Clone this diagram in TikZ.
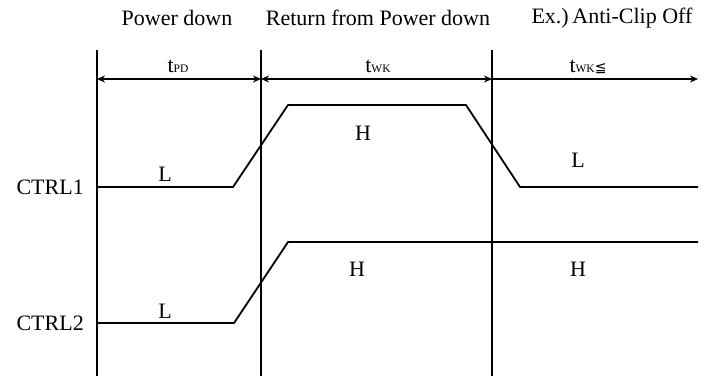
\documentclass[tikz,border=0pt]{standalone}
\usepackage{fontspec}
\setmainfont{Liberation Serif}
\newfontfamily\symfont{DejaVu Sans}
\usetikzlibrary{arrows.meta}
\begin{document}
\begin{tikzpicture}[x=1pt,y=-1pt,
  txt/.style={font=\fontsize{22}{24}\selectfont, inner sep=0pt},
  tlab/.style={font=\fontsize{22}{24}\selectfont, inner sep=0pt, anchor=base},
  vline/.style={line width=2.8pt},
  dim/.style={line width=2.4pt, {Stealth[length=8pt,width=7pt]}-{Stealth[length=8pt,width=7pt]}},
  dimr/.style={line width=2.4pt, -{Stealth[length=8pt,width=7pt]}},
  sig/.style={line width=1.8pt, line join=round}]
\useasboundingbox (0,0) rectangle (705,376);
\def\sub#1{{\fontsize{11.5}{12}\selectfont #1}}
% vertical boundaries
\coordinate (a0) at (97,50);  \coordinate (a1) at (97,376);
\coordinate (b0) at (261,50); \coordinate (b1) at (261,376);
\coordinate (c0) at (492,50); \coordinate (c1) at (492,376);
\draw[vline] (a0) -- (a1);
\draw[vline] (b0) -- (b1);
\draw[vline] (c0) -- (c1);
% titles
\node[txt] (t1) at (177,18) {Power down};
\node[txt] (t2) at (378,18) {Return from Power down};
\node[txt] (t3) at (612,18) {Ex.)\,Anti-Clip Off};
% dimension arrows
\coordinate (da) at (97,79); \coordinate (db) at (261,79);
\coordinate (dc) at (492,79); \coordinate (dd) at (698,79);
\draw[dim] (da) -- (db);
\draw[dim] (db) -- (dc);
\draw[dimr] (dc) -- (dd);
\node[tlab] (l1) at (178,72) {t\sub{PD}};
\node[tlab] (l2) at (378,72) {t\sub{WK}};
\node[tlab] (l3) at (588,72) {t\sub{WK}{\symfont\fontsize{14}{14}\selectfont ≦}};
% signal names
\node[txt, anchor=east] (c1n) at (84,187) {CTRL1};
\node[txt, anchor=east] (c2n) at (84,323) {CTRL2};
% CTRL1 waveform
\coordinate (s1) at (97,187);
\draw[sig] (s1) -- (233,187) -- (288,105) -- (466,105) -- (520,187) -- (698,187);
% CTRL2 waveform
\coordinate (s2) at (97,323);
\draw[sig] (s2) -- (234,323) -- (288,242) -- (698,242);
% levels
\node[txt] (L1) at (165,174) {L};
\node[txt] (H1) at (363,133) {H};
\node[txt] (L1b) at (578,160) {L};
\node[txt] (L2) at (165,311) {L};
\node[txt] (H2) at (357,269) {H};
\node[txt] (H2b) at (578,269) {H};
\end{tikzpicture}
\end{document}
